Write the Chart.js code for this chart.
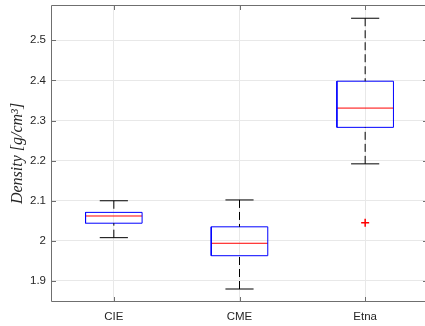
<!DOCTYPE html>
<html>
<head>
<meta charset="utf-8">
<script src="https://cdn.jsdelivr.net/npm/chart.js@4"></script>
<style>
  html, body { margin: 0; padding: 0; background: #fff; overflow: hidden; width: 425px; height: 326px; }
  canvas { display: block; }
</style>
</head>
<body>
<canvas id="myChart" width="428" height="326"></canvas>
<script>
// box plot of density per source
const categories = ['CIE', 'CME', 'Etna'];
const whiskerLow = [2.008, 1.880, 2.192];
const q1 = [2.044, 1.963, 2.283];
const median = [2.062, 1.994, 2.331];
const q3 = [2.071, 2.035, 2.398];
const whiskerHigh = [2.100, 2.102, 2.555];
const outliers = [[], [], [2.045]];
const yTicks = [1.9, 2.0, 2.1, 2.2, 2.3, 2.4, 2.5];

const boxHalf = 0.225;
const capHalf = 0.112;
const axisColor = '#6f6f6f';
const textColor = '#262626';

// build line segments from the arrays, a null y breaks the line
const boxPts = [], medPts = [], whiskPts = [], capPts = [], outPts = [];
categories.forEach((c, i) => {
  const x = i + 1;
  boxPts.push({x: x - boxHalf, y: q1[i]}, {x: x + boxHalf, y: q1[i]}, {x: x + boxHalf, y: q3[i]},
              {x: x - boxHalf, y: q3[i]}, {x: x - boxHalf, y: q1[i]}, {x: x, y: null});
  medPts.push({x: x - boxHalf, y: median[i]}, {x: x + boxHalf, y: median[i]}, {x: x, y: null});
  whiskPts.push({x: x, y: whiskerHigh[i]}, {x: x, y: q3[i]}, {x: x, y: null},
                {x: x, y: whiskerLow[i]}, {x: x, y: q1[i]}, {x: x, y: null});
  capPts.push({x: x - capHalf, y: whiskerHigh[i]}, {x: x + capHalf, y: whiskerHigh[i]}, {x: x, y: null},
              {x: x - capHalf, y: whiskerLow[i]}, {x: x + capHalf, y: whiskerLow[i]}, {x: x, y: null});
  outliers[i].forEach(v => outPts.push({x: x, y: v}));
});

const segment = (data, color, dash) => ({
  type: 'line', data: data, borderColor: color, borderWidth: 1, borderDash: dash || [],
  pointRadius: 0, spanGaps: false, tension: 0, fill: false
});

// axis box with inward ticks like matlab
const axesBox = {
  id: 'axesBox',
  afterDatasetsDraw(chart) {
    const {ctx, chartArea: a, scales: {x, y}} = chart;
    ctx.save();
    ctx.strokeStyle = axisColor;
    ctx.lineWidth = 1;
    ctx.beginPath();
    ctx.rect(a.left + 0.5, a.top + 0.5, a.right - a.left - 1, a.bottom - a.top - 1);
    y.ticks.forEach(t => {
      const py = Math.round(y.getPixelForValue(t.value)) + 0.5;
      ctx.moveTo(a.left, py); ctx.lineTo(a.left + 5, py);
      ctx.moveTo(a.right, py); ctx.lineTo(a.right - 5, py);
    });
    x.ticks.forEach(t => {
      const px = Math.round(x.getPixelForValue(t.value)) + 0.5;
      ctx.moveTo(px, a.bottom); ctx.lineTo(px, a.bottom - 5);
      ctx.moveTo(px, a.top); ctx.lineTo(px, a.top + 5);
    });
    ctx.stroke();
    ctx.restore();
  }
};

new Chart(document.getElementById('myChart'), {
  type: 'scatter',
  data: {
    datasets: [
      segment(whiskPts, '#000000', [8, 4]),
      segment(capPts, '#000000'),
      segment(boxPts, '#0000ff'),
      segment(medPts, '#ff0000'),
      {
        type: 'scatter', data: outPts, pointStyle: 'cross', pointRadius: 4,
        borderColor: '#ff0000', borderWidth: 1.5, backgroundColor: '#ff0000'
      }
    ]
  },
  options: {
    responsive: false,
    animation: false,
    devicePixelRatio: 1,
    layout: { autoPadding: false, padding: { top: 5, right: 0, bottom: 0, left: 0 } },
    plugins: { legend: { display: false }, tooltip: { enabled: false } },
    scales: {
      x: {
        type: 'linear', min: 0.5, max: 3.5,
        afterBuildTicks: s => { s.ticks = categories.map((c, i) => ({value: i + 1})); },
        afterFit: s => { s.height = 24; s.paddingLeft = 0; s.paddingRight = 0; },
        ticks: {
          callback: v => categories[v - 1],
          color: textColor, padding: 8,
          font: { family: 'Liberation Sans', size: 11.5 }
        },
        grid: { color: '#e8e8e8', drawTicks: false },
        border: { display: false }
      },
      y: {
        min: 1.8476, max: 2.588,
        afterBuildTicks: s => { s.ticks = yTicks.map(v => ({value: v})); },
        afterFit: s => { s.width = 51; s.paddingTop = 0; s.paddingBottom = 0; },
        ticks: {
          callback: v => String(+v.toFixed(1)),
          color: textColor, padding: 5,
          font: { family: 'Liberation Sans', size: 11.5 }
        },
        grid: { color: '#e8e8e8', drawTicks: false },
        border: { display: false },
        title: {
          display: true, text: 'Density [g/cm³]', color: textColor,
          font: { family: 'Liberation Serif', style: 'italic', size: 16 },
          padding: { top: 8, bottom: 0 }
        }
      }
    }
  },
  plugins: [axesBox]
});
</script>
</body>
</html>
